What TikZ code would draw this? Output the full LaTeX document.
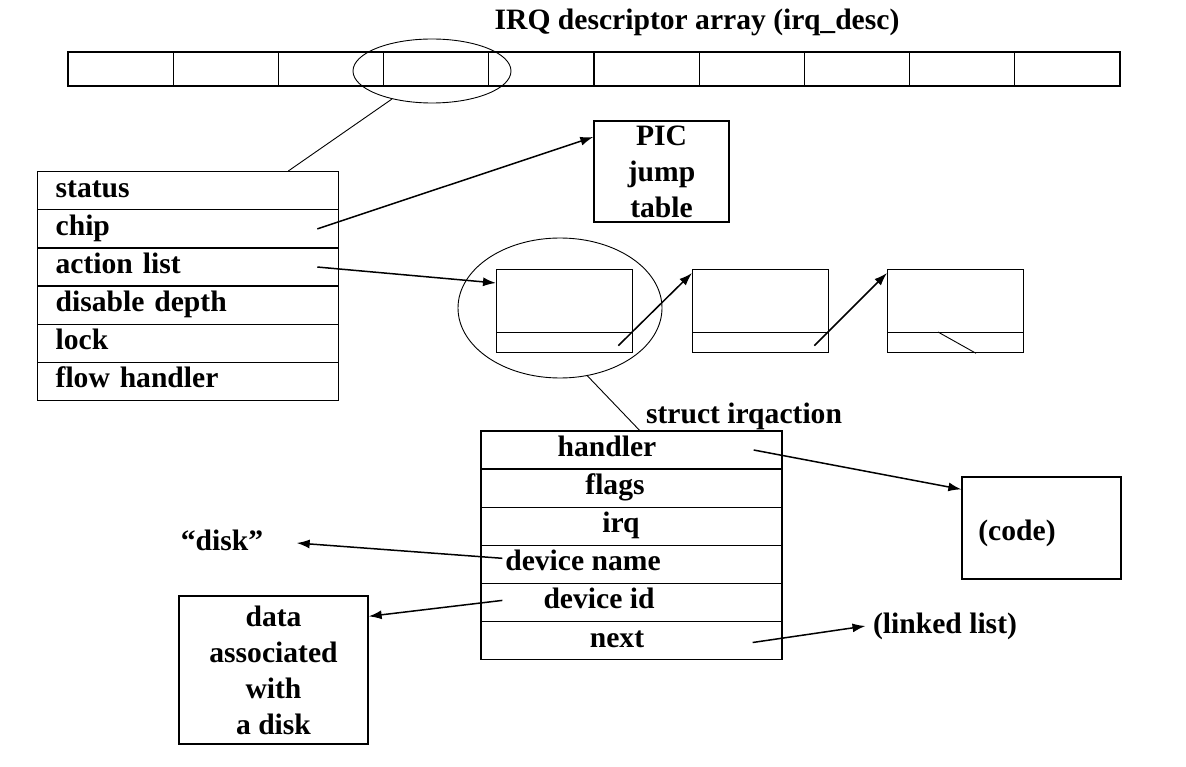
\documentclass[tikz,border=0pt]{standalone}
\usepackage{fontspec}
\setmainfont{Liberation Serif}
\usetikzlibrary{shapes.geometric,arrows.meta}

\begin{document}
\begin{tikzpicture}[x=1pt,y=-1pt,
  every node/.style={font=\fontsize{29.6}{36}\selectfont\bfseries},
  cellbox/.style={draw,line width=1.3pt,minimum width=105.2pt,minimum height=34pt,inner sep=0pt},
  fieldbox/.style={draw,line width=1.3pt,anchor=north west,minimum width=301pt,minimum height=38.15pt,
    inner sep=0pt,inner xsep=18pt,text width=265pt,align=left,text height=20pt,text depth=7pt},
  rowbox/.style={draw,line width=1.3pt,minimum width=301pt,minimum height=38.1pt,inner sep=0pt},
  rowtext/.style={inner sep=0pt,text height=20pt,text depth=7pt},
  lnkbox/.style={draw,line width=1.3pt,anchor=north west,minimum width=136pt,inner sep=0pt},
  plainbox/.style={draw,line width=1.3pt,inner sep=0pt},
  ringnode/.style={draw,ellipse,line width=0.9pt,inner sep=0pt},
  ptr/.style={line width=1.5pt,-{Latex[length=13pt,width=9pt]}},
  thinline/.style={line width=0.9pt}]
\useasboundingbox (0,0) rectangle (1186,767);

% descriptor array
\node (title) at (697,22) {IRQ descriptor array (irq\_desc)};
\foreach \i in {1,...,10}
  \node[cellbox] (c\i) at ({68+105.2*(\i-0.5)},69) {};
\node[ringnode,minimum width=158pt,minimum height=64pt] (pick) at (432,71) {};

% one irq_desc entry
\foreach \i/\txt in {1/status,2/chip,3/action list,4/disable depth,5/lock,6/flow handler}
  \node[fieldbox] (f\i) at (37,{171+38.15*(\i-1)}) {\txt};
\draw[thinline] (pick.215) -- ([xshift=-51pt]f1.north east);

\node[plainbox,minimum width=135pt,minimum height=101pt,align=center] (pic) at (661.5,171.5) {PIC\\jump\\table};
\draw[ptr] ([xshift=-22pt]f2.east) -- ([yshift=34.5pt]pic.west);

% action chain
\foreach \i/\x in {1/496,2/692,3/887}
{ \node[lnkbox,minimum height=63pt] (a\i) at (\x,269) {};
  \node[lnkbox,minimum height=20pt] (n\i) at (\x,332) {}; }
\node[ringnode,minimum width=204pt,minimum height=140pt] (grp) at (560,308) {};
\draw[ptr] ([xshift=-22pt]f3.east) -- ([yshift=-14pt]a1.north west);
\draw[ptr] ([xshift=-15pt,yshift=-3pt]n1.east) -- ([yshift=-4pt]a2.north west);
\draw[ptr] ([xshift=-15pt,yshift=-3pt]n2.east) -- ([yshift=-4pt]a3.north west);
\draw[thinline] ([xshift=51pt]n3.north west) -- ([xshift=89pt]n3.south west);

% struct irqaction
\node (sname) at (744,416) {struct irqaction};
\foreach \i/\tx/\txt in {1/607/handler,2/615/flags,3/621/irq,4/583/device name,5/599/device id,6/617/next}
{ \node[rowbox] (s\i) at (631.5,{450+38.1*(\i-1)}) {};
  \node[rowtext] (t\i) at (\tx,{450+38.1*(\i-1)}) {\txt}; }
\draw[thinline] (grp.292) -- ([xshift=8pt]s1.north);

\node[plainbox,minimum width=159pt,minimum height=102pt] (code) at (1041.5,528) {};
\node (codetxt) at (1017,533) {(code)};
\node (dsk) at (222,540) {“disk”};
\node[plainbox,minimum width=189pt,minimum height=148pt,align=center] (data) at (273.5,670) {data\\associated\\with\\a disk};
\node (lnk) at (945,626) {(linked list)};

\draw[ptr] ([xshift=-29pt]s1.east) -- ([yshift=-13pt]code.north west);
\draw[ptr] ([xshift=22pt,yshift=6pt]s4.west) -- ([xshift=30pt,yshift=-3pt]dsk.east);
\draw[ptr] ([xshift=22pt,yshift=2pt]s5.west) -- ([yshift=-21pt]data.north east);
\draw[ptr] ([xshift=-30pt,yshift=-2pt]s6.east) -- ([xshift=-4pt]lnk.west);
\end{tikzpicture}
\end{document}
